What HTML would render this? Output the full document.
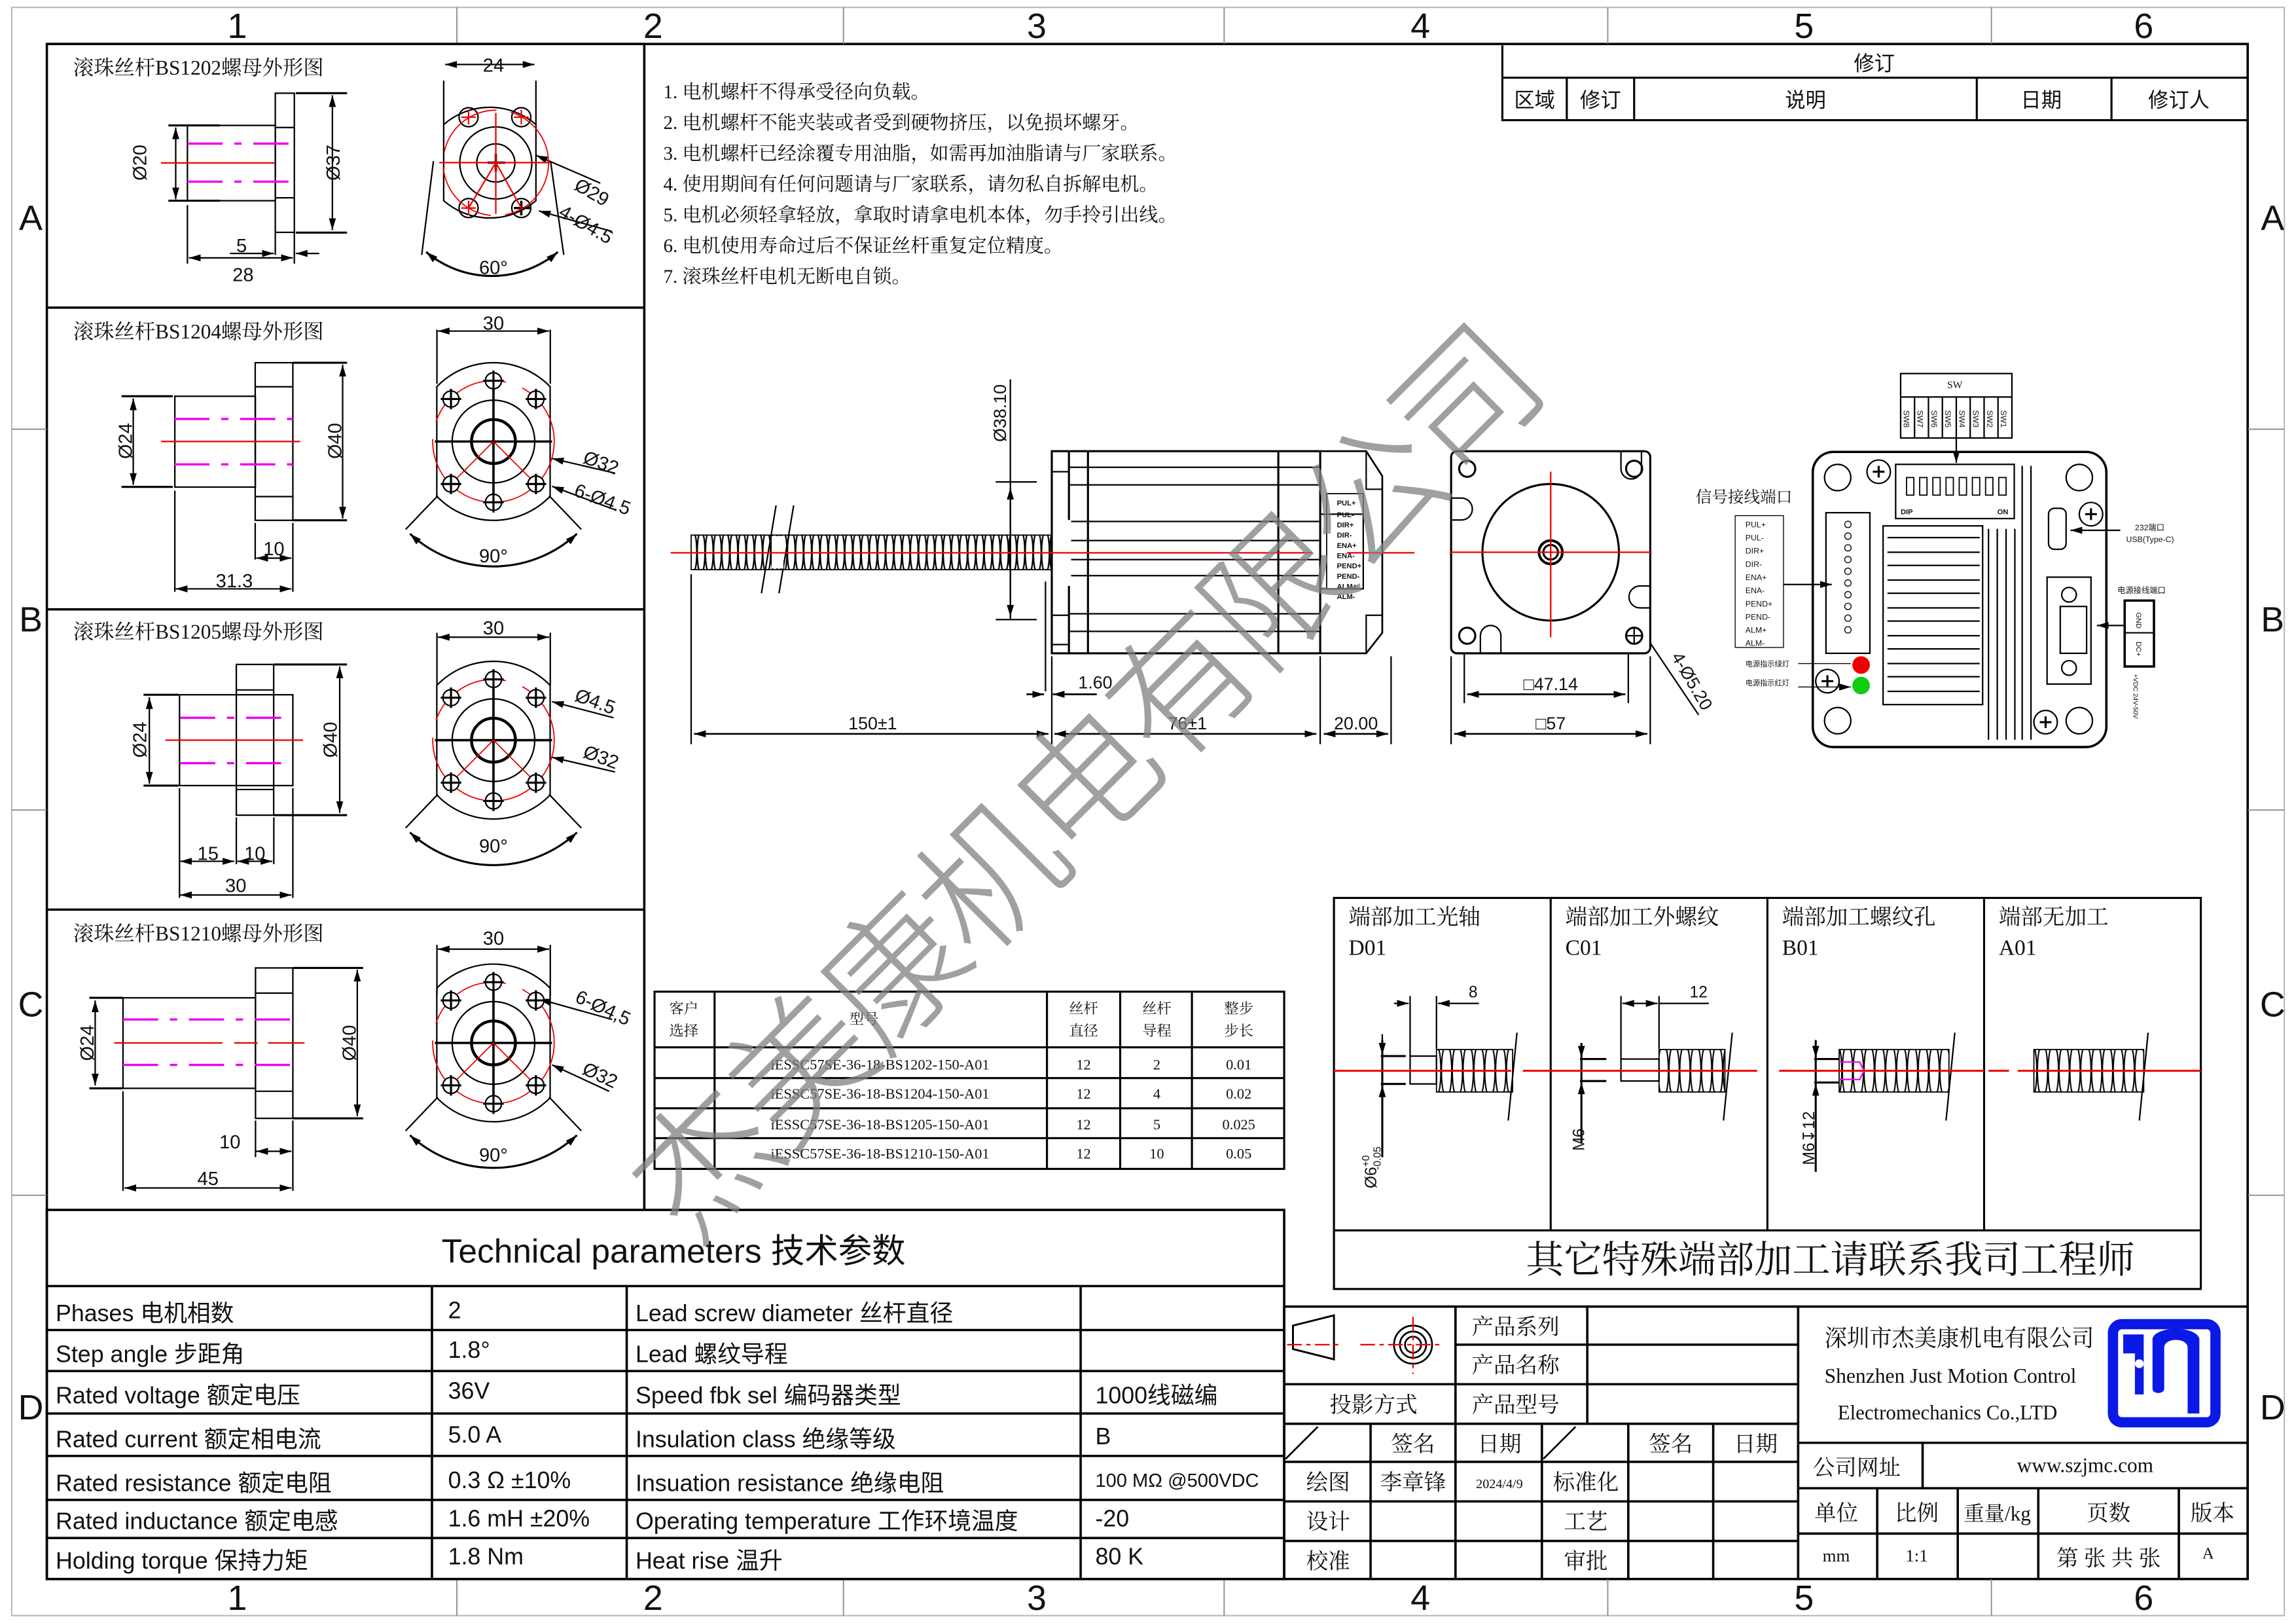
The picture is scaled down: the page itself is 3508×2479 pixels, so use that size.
<!DOCTYPE html>
<html><head><meta charset="utf-8"><style>
html,body{margin:0;padding:0;background:#fff}
svg{display:block}
text{font-family:"Liberation Sans","Noto Sans CJK SC",sans-serif;fill:#111}
.s{font-family:"Liberation Serif","Noto Serif CJK SC","Noto Sans CJK SC",serif}
</style></head><body>
<svg width="3508" height="2479" viewBox="0 0 1568 1108" xmlns="http://www.w3.org/2000/svg">
<defs>
<marker id="a" viewBox="0 0 10 6" refX="10" refY="3" markerWidth="8" markerHeight="5" orient="auto-start-reverse" markerUnits="userSpaceOnUse"><path d="M0,0L10,3L0,6z" fill="#000"/></marker>
<pattern id="t1" patternUnits="userSpaceOnUse" x="0" y="365" width="5.6" height="24"><path d="M1.2,0.5 C-0.2,6 -0.2,18 1.2,23.5 M4.4,0.5 C5.8,6 5.8,18 4.4,23.5 M1.2,0.5 Q2.8,-1 4.4,0.5 M1.2,23.5 Q2.8,25 4.4,23.5" fill="none" stroke="#000" stroke-width="1"/></pattern>
<pattern id="t2" patternUnits="userSpaceOnUse" x="0" y="716.5" width="7.4" height="29"><path d="M1.4,0.5 C-0.2,8 -0.2,21 1.4,28.5 M6,0.5 C7.6,8 7.6,21 6,28.5 M1.4,0.5 Q3.7,-1.5 6,0.5 M1.4,28.5 Q3.7,30.5 6,28.5" fill="none" stroke="#000" stroke-width="0.9"/></pattern>
<g id="hole"><circle r="5.5" fill="#fff" stroke="#000" stroke-width="1"/><path d="M-7,0H7M0,-7V7" stroke="#000" stroke-width="1.4"/></g>
<g id="f40" fill="none" stroke="#000" stroke-width="1">
<path d="M-38.7,-37.4A53.8,53.8 0 0 1 38.7,-37.4L38.7,37.4A53.8,53.8 0 0 1 -38.7,37.4Z"/>
<circle r="28.2"/><circle r="15" stroke-width="2"/>
<circle r="41.5" stroke="#e00" stroke-dasharray="60,12" stroke-width="0.8"/>
<path d="M-40,0H40M0,-42V42" stroke-width="1.6"/>
<path d="M0,0L-29,29M0,0L29,29" stroke="#e00" stroke-width="0.8"/>
<use href="#hole" x="0" y="-41.5"/><use href="#hole" x="-29" y="-29"/><use href="#hole" x="29" y="-29"/>
<use href="#hole" x="0" y="41.5"/><use href="#hole" x="-29" y="29"/><use href="#hole" x="29" y="29"/>
<path d="M-38,37L-60,60M38,37L60,60"/>
<path d="M-57,63A84,84 0 0 0 57,63" stroke-width="1.4" marker-start="url(#a)" marker-end="url(#a)"/>
</g>
</defs>

<!-- frame -->
<rect x="8" y="5" width="1552" height="1098" fill="none" stroke="#bbb" stroke-width="1"/>
<rect x="32" y="30" width="1503" height="1048" fill="none" stroke="#000" stroke-width="1.6"/>
<g stroke="#888" stroke-width="0.8">
<path d="M312,5V30M576,5V30M836,5V30M1098,5V30M1360,5V30M312,1078V1103M576,1078V1103M836,1078V1103M1098,1078V1103M1360,1078V1103"/>
<path d="M8,293H32M8,553H32M8,816H32M1535,293H1560M1535,553H1560M1535,816H1560"/>
</g>
<g font-size="24" text-anchor="middle">
<text x="162" y="26">1</text><text x="446" y="26">2</text><text x="708" y="26">3</text><text x="970" y="26">4</text><text x="1232" y="26">5</text><text x="1464" y="26">6</text>
<text x="162" y="1099">1</text><text x="446" y="1099">2</text><text x="708" y="1099">3</text><text x="970" y="1099">4</text><text x="1232" y="1099">5</text><text x="1464" y="1099">6</text>
<text x="21" y="157">A</text><text x="21" y="431">B</text><text x="21" y="694">C</text><text x="21" y="969">D</text>
<text x="1552" y="157">A</text><text x="1552" y="431">B</text><text x="1552" y="694">C</text><text x="1552" y="969">D</text>
</g>

<!-- left panels -->
<g fill="none" stroke="#000" stroke-width="1.6">
<path d="M32,30H440V826M32,210H440M32,416H440M32,621H440"/>
</g>
<g font-size="14" class="s">
<text x="50" y="51" class="s">滚珠丝杆BS1202螺母外形图</text>
<text x="50" y="231" class="s">滚珠丝杆BS1204螺母外形图</text>
<text x="50" y="436" class="s">滚珠丝杆BS1205螺母外形图</text>
<text x="50" y="642" class="s">滚珠丝杆BS1210螺母外形图</text>
</g>

<!-- panel 1 -->
<g fill="none" stroke="#000" stroke-width="1">
<rect x="188" y="63.6" width="13" height="95"/><path d="M188,87H201M188,135H201"/>
<rect x="128" y="85.6" width="60" height="51.4"/>
<path d="M115,85.6H150M115,137H150M202,63.6H237M202,158.8H237" stroke-width="1.4"/>
<path d="M120,87V136" marker-start="url(#a)" marker-end="url(#a)"/>
<path d="M227,65V157" marker-start="url(#a)" marker-end="url(#a)"/>
<path d="M128,140V180M201,157V180M188,157V174"/>
<path d="M129,176H200" marker-start="url(#a)" marker-end="url(#a)"/>
<path d="M157,173H187" marker-end="url(#a)"/><path d="M218,173H202" marker-end="url(#a)"/>
<path d="M296,110L288,174M376,110L385,174"/>
<path d="M291,172A70,70 0 0 0 381,172" stroke-width="1.4" marker-start="url(#a)" marker-end="url(#a)"/>
<path d="M303,55V85M366,55V85"/><path d="M304,44H365" marker-start="url(#a)" marker-end="url(#a)"/>
<path d="M303,85A48,48 0 0 1 366,85L366,137A48,48 0 0 1 303,137Z"/>
<circle cx="338.6" cy="111.2" r="24.6"/><circle cx="338.6" cy="111.2" r="13"/>
<circle cx="320" cy="80" r="6.5"/><circle cx="356" cy="80" r="6.5"/><circle cx="320" cy="142" r="6.5"/><circle cx="356" cy="142" r="6.5"/>
<path d="M351,142H362M356,137V147M333,111H345M338.6,105V117" stroke-width="1.6"/>
<path d="M410,125L366,106" marker-end="url(#a)"/><path d="M418,158L368,144" marker-end="url(#a)"/>
</g>
<g stroke="#e00" stroke-width="1" fill="none">
<path d="M315,80H325M320,75V85M351,80H361M356,75V85M315,142H325M320,137V147"/>
<path d="M300,111H376M338.6,77V146M338.6,111L320,142M338.6,111L356,142"/>
<circle cx="338.6" cy="111.2" r="36" stroke-dasharray="50,10" stroke-width="0.8"/>
<path d="M110,111.2H188"/></g>
<path d="M128,98H200M128,124H200" stroke="#e0e" stroke-width="1.5" stroke-dasharray="24,8,5,8"/>
<g font-size="13" text-anchor="middle">
<text x="337" y="49">24</text><text x="165" y="172">5</text><text x="166" y="192">28</text><text x="337" y="187">60°</text>
<text transform="translate(100,111) rotate(-90)">Ø20</text><text transform="translate(232,111) rotate(-90)">Ø37</text>
<text transform="translate(402,135) rotate(30)">Ø29</text><text transform="translate(398,157) rotate(30)">4-Ø4.5</text>
</g>

<!-- panel 2 -->
<g fill="none" stroke="#000" stroke-width="1">
<rect x="119.4" y="270.5" width="55" height="62"/><rect x="174.3" y="247.6" width="25.7" height="107.6"/>
<path d="M174.3,264H200M174.3,339H200"/>
<path d="M83,270.5H118M83,332.4H118M200,247.6H237M200,355.2H237" stroke-width="1.4"/>
<path d="M91,272V331" marker-start="url(#a)" marker-end="url(#a)"/><path d="M234,249V354" marker-start="url(#a)" marker-end="url(#a)"/>
<path d="M119.4,335V404M200,357V404M174.3,357V382"/>
<path d="M120,402H199" marker-start="url(#a)" marker-end="url(#a)"/><path d="M175,381H199" marker-start="url(#a)" marker-end="url(#a)"/>
<path d="M298.4,225V262M375.8,225V262"/><path d="M299,226H375" marker-start="url(#a)" marker-end="url(#a)"/>
<path d="M420,323L377,313" marker-end="url(#a)"/><path d="M420,348L377,332" marker-end="url(#a)"/>
</g>
<path d="M110,301.4H205" stroke="#e00"/>
<path d="M119,286H200M119,317H200" stroke="#e0e" stroke-width="1.5" stroke-dasharray="24,8,5,8"/>
<use href="#f40" x="337" y="301.4"/>
<g font-size="13" text-anchor="middle">
<text x="337" y="225">30</text><text x="187" y="379">10</text><text x="160" y="401">31.3</text><text x="337" y="384">90°</text>
<text transform="translate(90,301) rotate(-90)">Ø24</text><text transform="translate(233,301) rotate(-90)">Ø40</text>
<text transform="translate(409,320) rotate(20)">Ø32</text><text transform="translate(410,345) rotate(20)">6-Ø4.5</text>
</g>

<!-- panel 3 -->
<g fill="none" stroke="#000" stroke-width="1">
<rect x="122.6" y="474.3" width="77.4" height="62"/><rect x="161.4" y="453.6" width="25.5" height="102.9"/>
<path d="M161.4,471H187M161.4,539H187"/>
<path d="M98,474.3H122M98,536.3H122M187,453.6H237M187,556.5H237" stroke-width="1.4"/>
<path d="M102,476V535" marker-start="url(#a)" marker-end="url(#a)"/><path d="M232,455V555" marker-start="url(#a)" marker-end="url(#a)"/>
<path d="M122.6,538V613M200,538V613M161.4,558V590M187,558V590"/>
<path d="M123,588H160" marker-start="url(#a)" marker-end="url(#a)"/><path d="M162,588H186" marker-start="url(#a)" marker-end="url(#a)"/>
<path d="M123,611H199" marker-start="url(#a)" marker-end="url(#a)"/>
<path d="M298.4,432V468M375.8,432V468"/><path d="M299,435H375" marker-start="url(#a)" marker-end="url(#a)"/>
<path d="M419,490L377,479" marker-end="url(#a)"/><path d="M420,527L377,517" marker-end="url(#a)"/>
</g>
<path d="M113,505.3H207" stroke="#e00"/>
<path d="M123,490H200M123,521H200" stroke="#e0e" stroke-width="1.5" stroke-dasharray="24,8,5,8"/>
<use href="#f40" x="337" y="505.3"/>
<g font-size="13" text-anchor="middle">
<text x="337" y="433">30</text><text x="142" y="587">15</text><text x="174" y="587">10</text><text x="161" y="609">30</text><text x="337" y="582">90°</text>
<text transform="translate(100,505) rotate(-90)">Ø24</text><text transform="translate(230,505) rotate(-90)">Ø40</text>
<text transform="translate(405,483) rotate(20)">Ø4.5</text><text transform="translate(409,521) rotate(20)">Ø32</text>
</g>

<!-- panel 4 -->
<g fill="none" stroke="#000" stroke-width="1">
<rect x="84" y="681.2" width="90.5" height="61.8"/><rect x="174.5" y="660.8" width="25.5" height="102.7"/>
<path d="M174.5,678H200M174.5,745H200"/>
<path d="M61,681.2H84M61,743H84M200,660.8H248M200,763.5H248" stroke-width="1.4"/>
<path d="M65,683V741" marker-start="url(#a)" marker-end="url(#a)"/><path d="M244,662V762" marker-start="url(#a)" marker-end="url(#a)"/>
<path d="M84,745V813M200,765V813M174.5,765V790"/>
<path d="M85,811H199" marker-start="url(#a)" marker-end="url(#a)"/><path d="M175,786H199" marker-start="url(#a)" marker-end="url(#a)"/>
<path d="M298.4,645V680M375.8,645V680"/><path d="M299,648H375" marker-start="url(#a)" marker-end="url(#a)"/>
<path d="M418,696L368,682" marker-end="url(#a)"/><path d="M416,745L377,727" marker-end="url(#a)"/>
</g>
<path d="M78,712H152M160,712H176M183,712H208" stroke="#e00"/>
<path d="M84,696H200M84,727H200" stroke="#e0e" stroke-width="1.5" stroke-dasharray="24,8,5,8"/>
<use href="#f40" x="337" y="712"/>
<g font-size="13" text-anchor="middle">
<text x="337" y="645">30</text><text x="157" y="784">10</text><text x="142" y="809">45</text><text x="337" y="793">90°</text>
<text transform="translate(64,712) rotate(-90)">Ø24</text><text transform="translate(243,712) rotate(-90)">Ø40</text>
<text transform="translate(410,692) rotate(25)">6-Ø4,5</text><text transform="translate(408,738) rotate(25)">Ø32</text>
</g>

<!-- notes -->
<g font-size="13" class="s">
<text x="453" y="67" class="s">1.  电机螺杆不得承受径向负载。</text>
<text x="453" y="88" class="s">2.  电机螺杆不能夹装或者受到硬物挤压，以免损坏螺牙。</text>
<text x="453" y="109" class="s">3.  电机螺杆已经涂覆专用油脂，如需再加油脂请与厂家联系。</text>
<text x="453" y="130" class="s">4.  使用期间有任何问题请与厂家联系，请勿私自拆解电机。</text>
<text x="453" y="151" class="s">5.  电机必须轻拿轻放，拿取时请拿电机本体，勿手拎引出线。</text>
<text x="453" y="172" class="s">6.  电机使用寿命过后不保证丝杆重复定位精度。</text>
<text x="453" y="193" class="s">7.  滚珠丝杆电机无断电自锁。</text>
</g>

<!-- revision table -->
<g fill="none" stroke="#000" stroke-width="1.4">
<path d="M1026,31V82H1535M1026,53H1535M1070,53V82M1116,53V82M1350,53V82M1442,53V82"/>
</g>
<g font-size="14" text-anchor="middle">
<text x="1280" y="48">修订</text><text x="1048" y="73">区域</text><text x="1093" y="73">修订</text><text x="1233" y="73">说明</text><text x="1394" y="73">日期</text><text x="1488" y="73">修订人</text>
</g>

<!-- motor side -->
<rect x="472" y="365.3" width="246" height="23.6" fill="url(#t1)" stroke="#000" stroke-width="0.8"/>
<path d="M530,345L520,405M542,345L532,405" stroke="#000" stroke-width="1"/>
<rect x="527" y="366" width="8" height="22" fill="#fff"/>
<g fill="none" stroke="#000" stroke-width="1.4">
<rect x="718.3" y="308" width="183.3" height="138"/>
<path d="M730,308V446M743,308V446M873,308V446"/>
<path d="M730,319H901.6M730,331H901.6M730,356H901.6M730,369H901.6M730,382H901.6M730,393H901.6M730,419H901.6M730,431H901.6" stroke-width="1"/>
<path d="M730,355V400" stroke="#fff" stroke-width="3"/>
<path d="M718,322H730M718,420H730M718,440H730" stroke-width="1"/>
<path d="M901.6,308H933L944,325V432L933,446H901.6" stroke-width="1.2"/>
<path d="M933,308V334H944M933,446V420H944M901.6,351H931V402H901.6" stroke-width="1"/>
<rect x="906" y="337" width="25" height="65" stroke-width="0.8"/>
<path d="M690,259V423M680,329H708M680,423H708" stroke-width="1"/>
<path d="M690,333V421" stroke-width="1" marker-start="url(#a)" marker-end="url(#a)"/>
<path d="M714,397V472M718.3,448V508M472,392V508M901.6,448V508M950,448V508" stroke-width="1"/>
<path d="M474,501H716" stroke-width="1.2" marker-start="url(#a)" marker-end="url(#a)"/>
<path d="M720,501H899" stroke-width="1.2" marker-start="url(#a)" marker-end="url(#a)"/>
<path d="M904,501H948" stroke-width="1.2" marker-start="url(#a)" marker-end="url(#a)"/>
<path d="M701,474H713" stroke-width="1.2" marker-end="url(#a)"/><path d="M749,474H719" stroke-width="1.2" marker-end="url(#a)"/>
</g>
<path d="M458,377.4H896M920,377.4H966" stroke="#e00" stroke-width="1"/>
<g font-size="5" font-weight="bold">
<text x="913" y="345">PUL+</text><text x="913" y="353">PUL-</text><text x="913" y="360">DIR+</text><text x="913" y="367">DIR-</text><text x="913" y="374">ENA+</text><text x="913" y="381">ENA-</text><text x="913" y="388">PEND+</text><text x="913" y="395">PEND-</text><text x="913" y="402">ALM+</text><text x="913" y="409">ALM-</text>
</g>
<g font-size="12" text-anchor="middle">
<text transform="translate(687,282) rotate(-90)">Ø38.10</text>
<text x="596" y="498">150±1</text><text x="811" y="498">76±1</text><text x="926" y="498">20.00</text><text x="748" y="470">1.60</text>
</g>

<!-- motor front -->
<g fill="none" stroke="#000" stroke-width="1.4">
<rect x="991" y="308" width="136" height="138" rx="4"/>
<circle cx="1059" cy="377" r="46.6"/>
<circle cx="1059" cy="377" r="8" stroke-width="1.8"/><circle cx="1059" cy="377" r="5"/>
<circle cx="1002" cy="320" r="5.5"/><circle cx="1116" cy="320" r="5.5"/><circle cx="1002" cy="434" r="5.5"/><circle cx="1116" cy="434" r="5.5"/>
<path d="M1107,308V320A7,7 0 0 0 1121,320V308" stroke-width="1"/><path d="M991,340H998A7,7 0 0 1 998,355H991M1127,400H1120A7,7 0 0 0 1120,415H1127M1011,446V434A7,7 0 0 1 1025,434V446" stroke-width="1"/>
<path d="M1110,434H1122M1116,428V440" stroke-width="1"/>
<path d="M991,448V508M1127,448V508M1000,446V480M1112,446V480" stroke-width="1"/>
<path d="M993,501H1125" stroke-width="1.2" marker-start="url(#a)" marker-end="url(#a)"/>
<path d="M1002,474H1110" stroke-width="1.2" marker-start="url(#a)" marker-end="url(#a)"/>
<path d="M1127,439L1160,488" stroke-width="1"/>
</g>
<path d="M990,377H1128M1059,322V435" stroke="#e00" stroke-width="1"/>
<g font-size="12" text-anchor="middle">
<text x="1059" y="471">□47.14</text><text x="1059" y="498">□57</text>
<text transform="translate(1152,467) rotate(60)">4-Ø5.20</text>
</g>

<!-- driver -->
<g fill="none" stroke="#000" stroke-width="1">
<rect x="1298" y="255" width="76" height="44"/><path d="M1298,271H1374"/>
<path d="M1307.5,271V299M1317,271V299M1326.5,271V299M1336,271V299M1345.5,271V299M1355,271V299M1364.5,271V299"/>
<path d="M1336,299V316" marker-end="url(#a)"/>
<rect x="1238" y="308.5" width="200.5" height="201.5" rx="14" stroke-width="1.6"/>
<rect x="1294.6" y="317" width="81" height="37"/>
<g stroke-width="0.8"><rect x="1302" y="326" width="5" height="12"/><rect x="1311" y="326" width="5" height="12"/><rect x="1320" y="326" width="5" height="12"/><rect x="1329" y="326" width="5" height="12"/><rect x="1338" y="326" width="5" height="12"/><rect x="1347" y="326" width="5" height="12"/><rect x="1356" y="326" width="5" height="12"/><rect x="1365" y="326" width="5" height="12"/></g>
<circle cx="1255" cy="326" r="9"/><circle cx="1255" cy="492" r="9"/><circle cx="1420" cy="326" r="9"/><circle cx="1420" cy="492" r="9"/>
<circle cx="1283" cy="322" r="8"/><circle cx="1428" cy="351" r="8"/><circle cx="1248" cy="465" r="8"/><circle cx="1397" cy="493" r="8"/>
<path d="M1279,322h8M1283,318v8M1424,351h8M1428,347v8M1244,465h8M1248,461v8M1393,493h8M1397,489v8" stroke-width="1.4"/>
<rect x="1247" y="350" width="30" height="96"/>
<rect x="1286" y="359" width="68" height="122"/>
<path d="M1289,367H1352M1289,377H1352M1289,386H1352M1289,396H1352M1289,405H1352M1289,415H1352M1289,424H1352M1289,434H1352M1289,443H1352M1289,453H1352M1289,462H1352M1289,472H1352"/>
<path d="M1358,361V505M1364,361V505M1370,361V505M1376,361V505M1381,318V505M1387,318V505"/>
<rect x="1399" y="347" width="12" height="28" rx="4"/>
<rect x="1398" y="394" width="30" height="73"/>
<circle cx="1413" cy="406" r="5"/><circle cx="1413" cy="456" r="5"/>
<rect x="1407" y="414" width="18" height="32"/>
<rect x="1451" y="410" width="20" height="45" stroke-width="1.6"/><path d="M1451,432H1471"/>
<path d="M1451,427H1432" marker-end="url(#a)"/>
<path d="M1448,362H1414" marker-end="url(#a)"/>
<rect x="1185" y="352" width="33" height="90" stroke-width="0.6"/>
<path d="M1218,399H1251" marker-end="url(#a)"/>
<path d="M1228,453H1264M1228,469H1264" stroke-width="0.6" marker-end="url(#a)"/>
</g>
<g fill="none" stroke="#000" stroke-width="0.6">
<circle cx="1262" cy="358" r="2.2"/><circle cx="1262" cy="366" r="2.2"/><circle cx="1262" cy="374" r="2.2"/><circle cx="1262" cy="382" r="2.2"/><circle cx="1262" cy="390" r="2.2"/><circle cx="1262" cy="398" r="2.2"/><circle cx="1262" cy="406" r="2.2"/><circle cx="1262" cy="414" r="2.2"/><circle cx="1262" cy="422" r="2.2"/><circle cx="1262" cy="430" r="2.2"/>
</g>
<circle cx="1271" cy="454" r="6" fill="#e00"/><circle cx="1271" cy="468" r="6" fill="#1c1"/>
<g font-size="5.5">
<text x="1335" y="265" font-size="7" text-anchor="middle" class="s">SW</text>
<text transform="translate(1300,280) rotate(90)">SW8</text><text transform="translate(1309.5,280) rotate(90)">SW7</text><text transform="translate(1319,280) rotate(90)">SW6</text><text transform="translate(1328.5,280) rotate(90)">SW5</text><text transform="translate(1338,280) rotate(90)">SW4</text><text transform="translate(1347.5,280) rotate(90)">SW3</text><text transform="translate(1357,280) rotate(90)">SW2</text><text transform="translate(1366.5,280) rotate(90)">SW1</text>
<text x="1298" y="351" font-weight="bold" font-size="5">DIP</text><text x="1364" y="351" font-weight="bold" font-size="5">ON</text>
<text x="1192" y="360">PUL+</text><text x="1192" y="369">PUL-</text><text x="1192" y="378">DIR+</text><text x="1192" y="387">DIR-</text><text x="1192" y="396">ENA+</text><text x="1192" y="405">ENA-</text><text x="1192" y="414">PEND+</text><text x="1192" y="423">PEND-</text><text x="1192" y="432">ALM+</text><text x="1192" y="441">ALM-</text>
<text x="1192" y="455" font-size="5">电源指示绿灯</text><text x="1192" y="468" font-size="5">电源指示红灯</text>
<text x="1458" y="362">232端口</text><text x="1452" y="370">USB(Type-C)</text><text x="1446" y="405">电源接线端口</text>
<text transform="translate(1459,418) rotate(90)" font-size="5">GND</text><text transform="translate(1459,438) rotate(90)" font-size="5">DC+</text>
<text transform="translate(1457,460) rotate(90)" font-size="4.5">+VDC 24V-50V</text>
</g>
<text x="1158" y="343" font-size="11" class="s">信号接线端口</text>

<!-- model table -->
<g fill="none" stroke="#000" stroke-width="1.4">
<rect x="447" y="677" width="430" height="121"/>
<path d="M447,715H877M447,736H877M447,756.6H877M447,777H877M488,677V798M715,677V798M765,677V798M814,677V798"/>
</g>
<g font-size="10" text-anchor="middle" class="s">
<text x="467" y="692" class="s">客户</text><text x="467" y="707" class="s">选择</text>
<text x="590" y="699" class="s">型号</text>
<text x="740" y="692" class="s">丝杆</text><text x="740" y="707" class="s">直径</text>
<text x="790" y="692" class="s">丝杆</text><text x="790" y="707" class="s">导程</text>
<text x="846" y="692" class="s">整步</text><text x="846" y="707" class="s">步长</text>
<text x="601" y="730" class="s">iESSC57SE-36-18-BS1202-150-A01</text><text x="740" y="730" class="s">12</text><text x="790" y="730" class="s">2</text><text x="846" y="730" class="s">0.01</text>
<text x="601" y="750" class="s">iESSC57SE-36-18-BS1204-150-A01</text><text x="740" y="750" class="s">12</text><text x="790" y="750" class="s">4</text><text x="846" y="750" class="s">0.02</text>
<text x="601" y="771" class="s">iESSC57SE-36-18-BS1205-150-A01</text><text x="740" y="771" class="s">12</text><text x="790" y="771" class="s">5</text><text x="846" y="771" class="s">0.025</text>
<text x="601" y="791" class="s">iESSC57SE-36-18-BS1210-150-A01</text><text x="740" y="791" class="s">12</text><text x="790" y="791" class="s">10</text><text x="846" y="791" class="s">0.05</text>
</g>

<!-- end processing panel -->
<g fill="none" stroke="#000" stroke-width="1.4">
<rect x="911" y="613" width="592" height="267"/>
<path d="M911,840H1503M1059,613V840M1207,613V840M1355,613V840"/>
</g>
<g font-size="15" class="s">
<text x="921" y="631" class="s">端部加工光轴</text><text x="921" y="652" class="s">D01</text>
<text x="1069" y="631" class="s">端部加工外螺纹</text><text x="1069" y="652" class="s">C01</text>
<text x="1217" y="631" class="s">端部加工螺纹孔</text><text x="1217" y="652" class="s">B01</text>
<text x="1365" y="631" class="s">端部无加工</text><text x="1365" y="652" class="s">A01</text>
</g>
<text x="1250" y="869" font-size="26" text-anchor="middle" class="s">其它特殊端部加工请联系我司工程师</text>
<rect x="981" y="716.5" width="52" height="29" fill="url(#t2)" stroke="#000" stroke-width="0.8"/>
<rect x="1133" y="716.5" width="45" height="29" fill="url(#t2)" stroke="#000" stroke-width="0.8"/>
<rect x="1256" y="716.5" width="75" height="29" fill="url(#t2)" stroke="#000" stroke-width="0.8"/>
<rect x="1389" y="716.5" width="75" height="29" fill="url(#t2)" stroke="#000" stroke-width="0.8"/>
<g fill="none" stroke="#000" stroke-width="1">
<path d="M1036,705L1030,765M1183,705L1177,765M1335,705L1329,765M1467,705L1461,765"/>
<rect x="963" y="721" width="18" height="19"/><rect x="1107" y="723" width="26" height="15"/>
<path d="M944,710V790M943,721H960M943,740H960" stroke-width="1.4"/>
<path d="M944,706V720" marker-end="url(#a)"/><path d="M944,756V741" marker-end="url(#a)"/>
<path d="M963,680V721M981,680V716"/><path d="M952,685H962" marker-end="url(#a)"/><path d="M1010,685H982" marker-end="url(#a)"/>
<path d="M1080,712V780M1079,723H1097M1079,738H1097" stroke-width="1.4"/>
<path d="M1080,712V722" marker-end="url(#a)"/><path d="M1080,750V739" marker-end="url(#a)"/>
<path d="M1107,680V723M1133,680V716"/><path d="M1108,685H1132" marker-start="url(#a)" marker-end="url(#a)"/><path d="M1133,685H1167"/>
<path d="M1240,710V800M1239,723H1256M1239,739H1256" stroke-width="1.4"/>
<path d="M1240,712V722" marker-end="url(#a)"/><path d="M1240,750V740" marker-end="url(#a)"/>
</g>
<path d="M1256,725H1270L1273,731L1270,737H1256" fill="none" stroke="#e0e" stroke-width="1"/>
<path d="M911,731H1032M1040,731H1059M1059,731H1200M1215,731H1355M1358,731H1372M1378,731H1503" stroke="#e00" stroke-width="1.3"/>
<g font-size="11" text-anchor="middle">
<text x="1006" y="681">8</text><text x="1160" y="681">12</text>
<text transform="translate(940,797) rotate(-90)">Ø6<tspan font-size="7" dy="-5">+0</tspan><tspan font-size="7" dx="-10" dy="8">-0.05</tspan></text>
<text transform="translate(1082,778) rotate(-90)">M6</text>
<text transform="translate(1239,777) rotate(-90)">M6↧12</text>
</g>

<!-- tech params -->
<g fill="none" stroke="#000" stroke-width="1.6">
<rect x="32" y="826" width="845" height="252"/>
<path d="M32,878H877M32,908H877M32,936H877M32,965H877M32,994H877M32,1024H877M32,1050H877M295,878V1078M428,878V1078M738,878V1078"/>
</g>
<text x="460" y="862" font-size="23" text-anchor="middle">Technical parameters 技术参数</text>
<g font-size="16">
<text x="38" y="902">Phases 电机相数</text><text x="306" y="900">2</text><text x="434" y="902">Lead screw diameter 丝杆直径</text>
<text x="38" y="930">Step angle 步距角</text><text x="306" y="927">1.8°</text><text x="434" y="930">Lead 螺纹导程</text>
<text x="38" y="958">Rated voltage 额定电压</text><text x="306" y="955">36V</text><text x="434" y="958">Speed fbk sel  编码器类型</text><text x="748" y="958">1000线磁编</text>
<text x="38" y="988">Rated current 额定相电流</text><text x="306" y="985">5.0 A</text><text x="434" y="988">Insulation class 绝缘等级</text><text x="748" y="986">B</text>
<text x="38" y="1018">Rated resistance 额定电阻</text><text x="306" y="1016">0.3 Ω  ±10%</text><text x="434" y="1018">Insuation resistance 绝缘电阻</text><text x="748" y="1015" font-size="13">100 MΩ @500VDC</text>
<text x="38" y="1044">Rated inductance 额定电感</text><text x="306" y="1042">1.6 mH ±20%</text><text x="434" y="1044">Operating temperature 工作环境温度</text><text x="748" y="1042">-20</text>
<text x="38" y="1071">Holding torque 保持力矩</text><text x="306" y="1068">1.8 Nm</text><text x="434" y="1071">Heat rise 温升</text><text x="748" y="1068">80 K</text>
</g>

<!-- title block -->
<g fill="none" stroke="#000" stroke-width="1.6">
<path d="M877,892H1535V1078M877,892V1078M1228,892V1078"/>
<path d="M994,918H1228M877,945H1228M877,972H1228M877,998H1228M877,1025H1228M877,1052H1228"/>
<path d="M994,892V1078M1084,892V972M936,972V1078M1053,972V1078M1112,972V1078M1170,972V1078"/>
<path d="M1228,985H1535M1228,1016H1535M1228,1047H1535M1313,985V1016M1282,1016V1078M1337,1016V1078M1392,1016V1078M1488,1016V1078"/>
<path d="M878,996L900,974M1054,996L1076,974" stroke-width="1.2"/>
<path d="M883,905L911,898V928L883,921Z" stroke-width="1.3"/>
<circle cx="965" cy="918" r="13" stroke-width="1.2"/><circle cx="965" cy="918" r="9" stroke-width="1.2"/><circle cx="965" cy="918" r="5.5" stroke-width="1.2"/>
</g>
<path d="M879,918H917M929,918H983M965,899V938" stroke="#e00" stroke-width="1" stroke-dasharray="10,3,3,3"/>
<g font-size="15" text-anchor="middle" class="s">
<text x="1035" y="911" class="s">产品系列</text><text x="1035" y="937" class="s">产品名称</text><text x="1035" y="964" class="s">产品型号</text>
<text x="938" y="964" class="s">投影方式</text>
<text x="965" y="991" class="s">签名</text><text x="1024" y="991" class="s">日期</text><text x="1141" y="991" class="s">签名</text><text x="1199" y="991" class="s">日期</text>
<text x="907" y="1017" class="s">绘图</text><text x="965" y="1017" class="s">李章锋</text><text x="1024" y="1016" font-size="9" class="s">2024/4/9</text><text x="1083" y="1017" class="s">标准化</text>
<text x="907" y="1044" class="s">设计</text><text x="1083" y="1044" class="s">工艺</text>
<text x="907" y="1071" class="s">校准</text><text x="1083" y="1071" class="s">审批</text>
<text x="1338" y="919" font-size="16" textLength="184" lengthAdjust="spacingAndGlyphs" class="s">深圳市杰美康机电有限公司</text>
<text x="1332" y="944" font-size="14" textLength="172" lengthAdjust="spacingAndGlyphs" class="s">Shenzhen Just Motion Control</text>
<text x="1330" y="969" font-size="14" textLength="150" lengthAdjust="spacingAndGlyphs" class="s">Electromechanics Co.,LTD</text>
<text x="1268" y="1007" class="s">公司网址</text><text x="1424" y="1005" font-size="14" class="s">www.szjmc.com</text>
<text x="1254" y="1038" class="s">单位</text><text x="1309" y="1038" class="s">比例</text><text x="1364" y="1038" font-size="14" class="s">重量/kg</text><text x="1440" y="1038" class="s">页数</text><text x="1511" y="1038" class="s">版本</text>
<text x="1254" y="1066" font-size="12" class="s">mm</text><text x="1309" y="1066" font-size="12" class="s">1:1</text><text x="1440" y="1069" class="s">第 张 共 张</text><text x="1508" y="1064" font-size="11" class="s">A</text>
</g>
<!-- logo -->
<g fill="none" stroke="#0a19e6">
<rect x="1443" y="904" width="70" height="67" rx="6" stroke-width="7"/>
</g>
<path d="M1450,911H1464V952H1458V924H1450Z M1470,914C1472,905 1500,905 1502,914V965H1494V920C1494,913 1478,913 1478,920V948C1478,952 1470,952 1470,948Z" fill="#0a19e6"/>
<circle cx="1461" cy="931" r="3" fill="#fff"/>

<!-- watermark -->
<text transform="translate(472,852) rotate(-45)" font-size="96" letter-spacing="-4" fill="#808080" fill-opacity="0.75" font-family="'Noto Sans CJK SC',sans-serif" style="fill:#808080;font-weight:300">杰美康机电有限公司</text>
</svg>
</body></html>
